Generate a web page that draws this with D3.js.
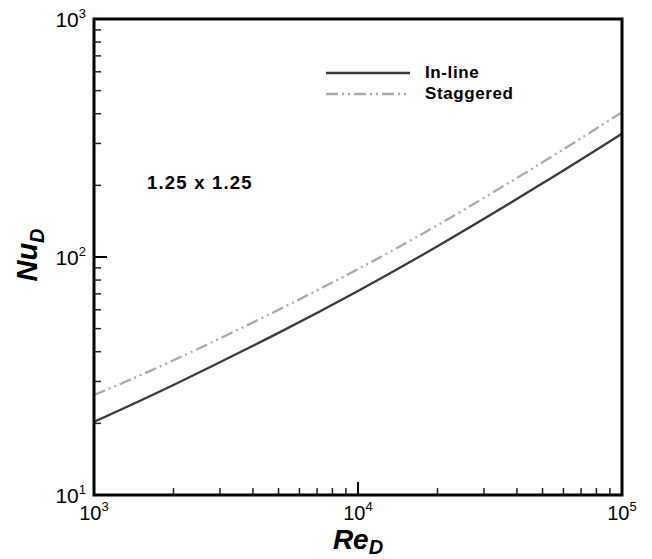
<!DOCTYPE html>
<html>
<head>
<meta charset="utf-8">
<script src="https://cdn.jsdelivr.net/npm/d3@7"></script>
<style>
	body { margin: 0; background: #fff; }
	text { font-family: "Liberation Sans", Arial, Helvetica, sans-serif; }
</style>
</head>
<body>
<script>
// Reynolds number samples and Nusselt number
const reVals = [1000, 2000, 5000, 10000, 20000, 50000, 100000];
const nuInline = [20.3, 29, 48, 72, 111, 204, 330];
const nuStaggered = [26.3, 36.8, 60, 89, 136, 250, 406];

const seriesNames = ["In-line", "Staggered"];
const xTickExp = [3, 4, 5];
const yTickExp = [1, 2, 3];
const annotation = "1.25 x 1.25";

const w = 652;
const h = 559;
const margin = { left: 94, right: 30, top: 19, bottom: 64 };

const svg = d3.select("body")
	.append("svg")
	.attr("width", w)
	.attr("height", h);

const x = d3.scaleLog()
	.domain([1e3, 1e5])
	.range([margin.left, w - margin.right]);

const y = d3.scaleLog()
	.domain([1e1, 1e3])
	.range([h - margin.bottom, margin.top]);

// minor ticks (2..9 of each decade), drawn inward
const minorX = [];
for (let e = 3; e < 5; e++) for (let m = 2; m <= 9; m++) minorX.push(m * Math.pow(10, e));
const minorY = [];
for (let e = 1; e < 3; e++) for (let m = 2; m <= 9; m++) minorY.push(m * Math.pow(10, e));

const yBottom = y.range()[0];
const xLeft = x.range()[0];

svg.append("g")
	.selectAll("line")
	.data(minorX)
	.enter()
	.append("line")
	.attr("x1", d => x(d)).attr("x2", d => x(d))
	.attr("y1", yBottom).attr("y2", yBottom - 7)
	.attr("stroke", "#222").attr("stroke-width", 1.5);

svg.append("g")
	.selectAll("line")
	.data(xTickExp)
	.enter()
	.append("line")
	.attr("x1", d => x(Math.pow(10, d))).attr("x2", d => x(Math.pow(10, d)))
	.attr("y1", yBottom).attr("y2", yBottom - 13)
	.attr("stroke", "#000").attr("stroke-width", 2);

svg.append("g")
	.selectAll("line")
	.data(minorY)
	.enter()
	.append("line")
	.attr("x1", xLeft).attr("x2", xLeft + 7)
	.attr("y1", d => y(d)).attr("y2", d => y(d))
	.attr("stroke", "#222").attr("stroke-width", 1.5);

svg.append("g")
	.selectAll("line")
	.data(yTickExp)
	.enter()
	.append("line")
	.attr("x1", xLeft).attr("x2", xLeft + 13)
	.attr("y1", d => y(Math.pow(10, d))).attr("y2", d => y(Math.pow(10, d)))
	.attr("stroke", "#000").attr("stroke-width", 2);

// curves
const line = d3.line()
	.x(d => x(d[0]))
	.y(d => y(d[1]))
	.curve(d3.curveNatural);

svg.append("path")
	.datum(d3.zip(reVals, nuInline))
	.attr("d", line)
	.attr("fill", "none")
	.attr("stroke", "#3a3a3a")
	.attr("stroke-width", 2.3);

svg.append("path")
	.datum(d3.zip(reVals, nuStaggered))
	.attr("d", line)
	.attr("fill", "none")
	.attr("stroke", "#aaaaaa")
	.attr("stroke-width", 2.3)
	.attr("stroke-dasharray", "12,4,2,4,2,4");

// frame
svg.append("rect")
	.attr("x", x.range()[0])
	.attr("y", y.range()[1])
	.attr("width", x.range()[1] - x.range()[0])
	.attr("height", y.range()[0] - y.range()[1])
	.attr("fill", "none")
	.attr("stroke", "#000")
	.attr("stroke-width", 3);

// tick labels
const xLab = svg.append("g")
	.selectAll("text")
	.data(xTickExp)
	.enter()
	.append("text")
	.attr("x", d => x(Math.pow(10, d)))
	.attr("y", yBottom + 25)
	.attr("text-anchor", "middle")
	.style("font-size", "20px");
xLab.append("tspan").text("10");
xLab.append("tspan").attr("dy", -9).style("font-size", "13px").text(d => d);

const yLab = svg.append("g")
	.selectAll("text")
	.data(yTickExp)
	.enter()
	.append("text")
	.attr("x", xLeft - 8)
	.attr("y", d => y(Math.pow(10, d)) + 8)
	.attr("text-anchor", "end")
	.style("font-size", "21px");
yLab.append("tspan").text("10");
yLab.append("tspan").attr("dy", -9).style("font-size", "13px").text(d => d);

// axis titles
const xTitle = svg.append("text")
	.attr("x", 358)
	.attr("y", 549)
	.attr("text-anchor", "middle")
	.style("font-size", "28px")
	.style("font-weight", "bold")
	.style("font-style", "italic");
xTitle.append("tspan").text("Re");
xTitle.append("tspan").attr("dy", 5).style("font-size", "20px").text("D");

const yTitle = svg.append("text")
	.attr("transform", "translate(37,255) rotate(-90)")
	.attr("text-anchor", "middle")
	.style("font-size", "29px")
	.style("font-weight", "bold")
	.style("font-style", "italic");
yTitle.append("tspan").text("Nu");
yTitle.append("tspan").attr("dy", 7).style("font-size", "20px").text("D");

// legend
const legend = svg.append("g").attr("id", "legend");
const legendStyles = [
	{ stroke: "#3a3a3a", dash: null },
	{ stroke: "#aaaaaa", dash: "12,4,2,4,2,4" }
];
seriesNames.forEach((name, i) => {
	const ly = 73 + i * 21;
	legend.append("line")
		.attr("x1", 326).attr("x2", 410)
		.attr("y1", ly).attr("y2", ly)
		.attr("stroke", legendStyles[i].stroke)
		.attr("stroke-width", 2.3)
		.attr("stroke-dasharray", legendStyles[i].dash);
	legend.append("text")
		.attr("x", 425)
		.attr("y", ly + 5)
		.style("font-size", "17px")
		.style("font-weight", "bold")
		.style("letter-spacing", "0.6px")
		.text(name);
});

svg.append("text")
	.attr("x", 147)
	.attr("y", 189)
	.style("font-size", "18.5px")
	.style("font-weight", "bold")
	.style("letter-spacing", "1.2px")
	.text(annotation);
</script>
</body>
</html>
